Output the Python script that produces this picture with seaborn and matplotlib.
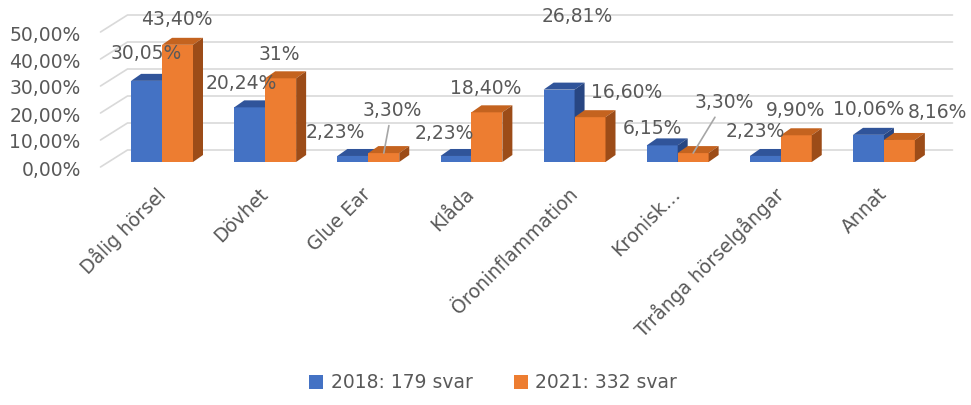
import matplotlib
matplotlib.use("Agg")
import matplotlib.pyplot as plt
import pandas as pd
import seaborn as sns
from matplotlib.patches import Polygon, Patch
import matplotlib.transforms as mtransforms

# Data
categories = ["Dålig hörsel", "Dövhet", "Glue Ear", "Klåda", "Öroninflammation",
              "Kronisk…", "Trrånga hörselgångar", "Annat"]
series = ["2018: 179 svar", "2021: 332 svar"]
values_2018 = [30.05, 20.24, 2.23, 2.23, 26.81, 6.15, 2.23, 10.06]
values_2021 = [43.40, 31.00, 3.30, 18.40, 16.60, 3.30, 9.90, 8.16]
labels_2018 = ["30,05%", "20,24%", "2,23%", "2,23%", "26,81%", "6,15%", "2,23%", "10,06%"]
labels_2021 = ["43,40%", "31%", "3,30%", "18,40%", "16,60%", "3,30%", "9,90%", "8,16%"]
yticks = [0, 10, 20, 30, 40, 50]
ytick_labels = ["0,00%", "10,00%", "20,00%", "30,00%", "40,00%", "50,00%"]

# label offsets in pixels (dx, dy) from front-top centre of each bar
offs_2018 = [(0, 27), (-8, 24), (-18, 23), (-12, 22), (18, 73), (-10, 17), (-10, 24), (0, 25)]
offs_2021 = [(-1, 25), (-1, 24), (8, 43), (-1, 24), (37, 25), (31, 51), (-1, 25), (38, 27)]
leader_2021 = [False, False, True, False, False, True, False, False]

colors = ["#4472C4", "#ED7D31"]
top_colors = ["#30549A", "#C4631F"]
side_colors = ["#284682", "#9C4C18"]
text_color = "#595959"
grid_color = "#D9D9D9"

df = pd.DataFrame({
    "Kategori": categories * 2,
    "Andel": values_2018 + values_2021,
    "Serie": [series[0]] * len(categories) + [series[1]] * len(categories),
})

sns.set_theme(style="white")
plt.rcParams["font.family"] = ["DejaVu Sans"]

W, H, DPI = 971, 405, 100
fig = plt.figure(figsize=(W / DPI, H / DPI), dpi=DPI)
# front plane: x -0.5..7.5 spans 110..936 px, y=0 at 162 px from top, 2.7 px per %
ax = fig.add_axes([110.5 / W, 1 - 162 / H, 825 / W, 2.7 * 55 / H])

sns.barplot(data=df, x="Kategori", y="Andel", hue="Serie", palette=colors,
            width=0.6, saturation=1, legend=False, ax=ax, zorder=2)
ax.set_xlim(-0.5, len(categories) - 0.5)
ax.set_ylim(0, 55)
for s in ax.spines.values():
    s.set_visible(False)
ax.set_xlabel("")
ax.set_ylabel("")

to_disp = ax.transData.transform
to_data = ax.transData.inverted().transform

# back-plane gridlines with a slanted left end
for v in yticks:
    px, py = to_disp((-0.5, v))
    qx, qy = to_disp((len(categories) - 0.5, v))
    pts = to_data([(px - 10, py - 5), (px + 17, py + 12), (qx + 17, qy + 12)])
    ax.plot(pts[:, 0], pts[:, 1], color=grid_color, lw=1.2, zorder=0, clip_on=False)

# 3D faces on the bars
dx, dy = 10, 7
n = len(categories)
bars = ax.patches[:2 * n]
for i, bar in enumerate(bars):
    si = i // n
    bar.set_zorder(2 + si * 2)
    bar.set_edgecolor("none")
    x0, y0 = to_disp((bar.get_x(), 0))
    x1, y1 = to_disp((bar.get_x() + bar.get_width(), bar.get_height()))
    top = to_data([(x0, y1), (x1, y1), (x1 + dx, y1 + dy), (x0 + dx, y1 + dy)])
    side = to_data([(x1, y0), (x1, y1), (x1 + dx, y1 + dy), (x1 + dx, y0 + dy)])
    ax.add_patch(Polygon(top, closed=True, fc=top_colors[si], ec="none",
                         zorder=2.5 + si * 2, clip_on=False))
    ax.add_patch(Polygon(side, closed=True, fc=side_colors[si], ec="none",
                         zorder=2.5 + si * 2, clip_on=False))

# data labels
fs = 13.5
for si, (vals, labs, offs) in enumerate([(values_2018, labels_2018, offs_2018),
                                         (values_2021, labels_2021, offs_2021)]):
    for k in range(n):
        bar = bars[si * n + k]
        cx = bar.get_x() + bar.get_width() / 2
        arrow = None
        if si == 1 and leader_2021[k]:
            arrow = dict(arrowstyle="-", color="#A6A6A6", lw=1.2, shrinkA=2, shrinkB=0)
        ax.annotate(labs[k], xy=(cx, vals[k]), xytext=offs[k], textcoords="offset pixels",
                    ha="center", va="center", fontsize=fs, color=text_color,
                    annotation_clip=False, zorder=10, arrowprops=arrow)

# y tick labels, set a bit in front of the plane
ax.set_yticks(yticks)
ax.set_yticklabels(ytick_labels, fontsize=fs, color=text_color)
ax.tick_params(axis="y", length=0, pad=21.5)
shift = mtransforms.ScaledTranslation(0, -6 / DPI, fig.dpi_scale_trans)
for lab in ax.get_yticklabels():
    lab.set_transform(lab.get_transform() + shift)

# category labels at 45 degrees
ax.set_xticks(range(n))
ax.set_xticklabels(categories, rotation=45, ha="right", va="center",
                   rotation_mode="anchor", fontsize=fs, color=text_color)
ax.tick_params(axis="x", length=0, pad=21)

handles = [Patch(facecolor=c, edgecolor="none") for c in colors]
fig.legend(handles, series, loc="center", bbox_to_anchor=(0.508, 1 - 383 / H), ncol=2,
           frameon=False, fontsize=fs, labelcolor=text_color, handlelength=0.75,
           handleheight=0.75, handletextpad=0.4, columnspacing=2.2)

fig.savefig("out.png", dpi=DPI)
